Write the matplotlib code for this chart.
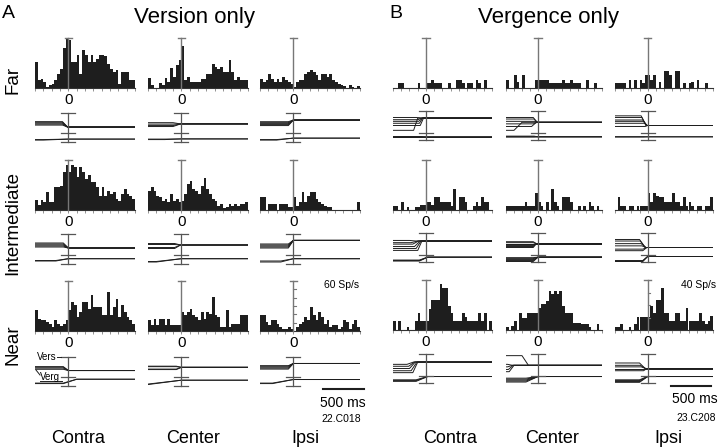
import numpy as np
import matplotlib.pyplot as plt
from matplotlib.lines import Line2D

plt.rcParams['font.family'] = ['Liberation Sans', 'DejaVu Sans']

W, H = 720, 448
T0, T1 = -400, 800   # ms, time window of every panel

# firing rate histograms (Sp/s), 36 bins from -400 to 800 ms
a_far_contra = [31, 9, 11, 7, 1, 3, 5, 10, 17, 23, 48, 60, 58, 31, 31, 40, 17, 45, 40, 31,
                40, 31, 35, 40, 40, 38, 29, 23, 19, 22, 5, 19, 19, 19, 9, 9]
a_far_center = [12, 3, 0, 0, 6, 3, 12, 7, 24, 13, 27, 33, 50, 9, 13, 7, 7, 7, 7, 11,
                11, 17, 17, 29, 25, 23, 25, 19, 19, 33, 19, 9, 13, 9, 9, 9]
a_far_ipsi = [11, 7, 9, 17, 11, 7, 11, 7, 13, 9, 7, 5, 1, 7, 9, 9, 17, 19, 21, 19,
              15, 9, 17, 17, 13, 17, 9, 7, 5, 3, 2, 0, 3, 1, 0, 2]
a_int_contra = [12, 6, 12, 9, 21, 10, 10, 27, 27, 29, 45, 54, 45, 54, 51, 39, 51, 45, 37, 42,
                33, 33, 27, 17, 27, 17, 23, 19, 21, 13, 11, 19, 25, 19, 17, 13]
a_int_center = [23, 27, 23, 17, 15, 11, 13, 9, 19, 11, 13, 9, 11, 19, 31, 35, 25, 23, 19, 29,
                38, 25, 19, 13, 11, 5, 7, 2, 3, 7, 5, 7, 5, 7, 7, 9]
a_int_ipsi = [15, 15, 0, 7, 7, 7, 0, 7, 7, 7, 3, 3, 15, 5, 9, 21, 9, 17, 21, 21,
              13, 9, 7, 5, 3, 3, 0, 0, 0, 0, 0, 0, 0, 0, 0, 9]
a_near_contra = [25, 15, 13, 13, 11, 9, 5, 13, 9, 6, 9, 13, 25, 35, 31, 17, 23, 35, 35, 27,
                 43, 29, 29, 29, 19, 19, 47, 19, 29, 39, 17, 31, 23, 17, 13, 9]
a_near_center = [13, 7, 15, 7, 15, 15, 7, 15, 7, 7, 7, 7, 23, 19, 23, 27, 19, 17, 13, 23,
                 15, 23, 20, 41, 19, 17, 5, 5, 25, 5, 9, 9, 9, 19, 19, 19]
a_near_ipsi = [19, 19, 11, 7, 13, 13, 9, 5, 3, 2, 5, 3, 0, 5, 9, 11, 17, 13, 29, 19,
               13, 23, 17, 9, 13, 5, 7, 7, 3, 5, 13, 11, 3, 9, 13, 5]

b_far_contra = [0, 0, 4, 4, 0, 0, 0, 0, 0, 4, 0, 0, 4, 4, 6.5, 4, 4, 4, 0, 0,
                4, 0, 0, 6.5, 6.5, 4, 0, 4, 4, 0, 6.5, 4, 0, 6.5, 0, 0]
b_far_center = [6.5, 0, 0, 10, 4.5, 0, 10, 0, 0, 0, 0, 6.5, 6.5, 6.5, 6.5, 6.5, 4, 4, 4, 4,
                4, 6.5, 4, 4, 6.5, 4, 4, 4, 0, 0, 6.5, 0, 0, 4, 0, 0]
b_far_ipsi = [4, 4, 4, 4, 0, 6.5, 0, 6.5, 0, 6.5, 4, 10, 10, 6, 10, 0, 4.5, 0, 13.5, 13.5,
              10, 0, 13.5, 13.5, 0, 4, 0, 4, 4.5, 0, 6.5, 0, 0, 4, 0, 0]
b_int_contra = [3.3, 3.3, 0, 6, 0, 2.7, 0, 0, 2.7, 2.7, 3.8, 3.8, 6, 6, 3.8, 10, 10, 6, 6, 6,
                6, 3.3, 17, 0, 10, 10, 6, 0, 0, 3.3, 6, 3.3, 10, 6, 6, 0]
b_int_center = [3.3, 3.3, 3.3, 3.3, 3.3, 3.3, 3.3, 6, 3.3, 3.3, 3.3, 13.6, 6, 3.3, 0, 6, 0, 17, 6, 3.3,
                0, 10, 10, 10, 6, 0, 0, 3.3, 0, 3.3, 0, 6.5, 3.3, 0, 3.3, 0]
b_int_ipsi = [0, 10, 3.3, 3.3, 0, 3.3, 3.3, 0, 3.3, 3.3, 3.3, 3.3, 13.6, 6, 13.6, 11.4, 10, 10, 6, 6,
              6, 13.6, 6, 6, 3.3, 10, 3.3, 6, 3.3, 0, 3.3, 3.3, 0, 3.3, 3.3, 10]
b_near_contra = [7.5, 0, 7.5, 0, 0, 2.7, 0, 0, 7.5, 14, 7.5, 7.5, 7.5, 17, 24, 24, 24, 37, 34, 34,
                 19.5, 14, 7.5, 7.5, 7.5, 14, 10.7, 7.5, 7.5, 7.5, 7.5, 14, 7.5, 14, 0, 7.5]
b_near_center = [2.1, 0, 3.5, 7.5, 0, 14, 10, 10, 14, 14, 14, 14, 18, 21, 21, 23, 31, 29, 31, 29,
                 31, 19.5, 14, 14, 14, 6, 6, 6, 4.8, 4.8, 4.8, 2.1, 0, 0, 4.8, 0]
b_near_ipsi = [2.1, 2.1, 4.8, 0, 0, 2.1, 0, 4.8, 10.7, 10.7, 10.7, 10.7, 10.7, 19.5, 14, 24, 24, 34, 14, 14,
               7.5, 7.5, 14, 14, 7.5, 7.5, 18, 7.5, 7.5, 7.5, 7.5, 14, 7.5, 4.8, 7.5, 11.5]

# eye position traces: (levels before, level after, transition start ms, transition end ms)
# vertical units are arbitrary (0 = bottom of the position scale bar, 30 = top)
a_far_vers = [([17.5, 18.5, 19.5, 20.5, 21.0], 15.5, -70, -10),
              ([16.0, 17.0, 18.5, 20.0], 18.7, -100, -10),
              ([17.0, 18.0, 19.0, 20.0, 21.0], 22.7, -60, 0)]
a_far_verg = [([2.0, 2.5], 3.0, -300, 0),
              ([2.5, 3.0], 3.2, -200, 0),
              ([2.0, 2.5], 4.0, -200, 0)]
a_int_vers = [([17.0, 18.0, 19.0, 20.0, 21.0], 16.0, -60, 0),
              ([15.5, 16.5, 19.5, 20.5], 19.0, -80, -10),
              ([16.0, 17.0, 18.0, 19.0, 20.0], 23.6, -60, 0)]
a_int_verg = [([3.0, 3.5], 5.3, -150, 0),
              ([2.0, 2.5], 5.3, -300, 0),
              ([2.0, 3.0], 5.3, -150, 0)]
a_near_vers = [([17.3, 18.5, 19.5, 20.0], 16.0, -60, 0),
               ([17.0, 17.5, 20.0, 20.5], 19.3, -60, 0),
               ([17.5, 18.5, 19.5, 20.5, 21.0], 23.3, -60, 0)]
a_near_verg = [([2.5, 3.0], 7.0, -60, 100),
               ([1.5, 2.0], 6.0, -400, 0),
               ([2.5, 3.0], 6.7, -250, 0)]

b_far_vers = [([23.3, 21.0, 19.3, 17.3, 15.0, 10.0], 22.7,
               [-120, -100, -90, -80, -70, -150], [-60, -50, -40, -40, -30, -100]),
              ([23.3, 21.7, 19.3, 16.7, 14.0, 10.0], 18.3,
               [-60, -50, -40, -60, -80, -300], [-10, -10, 0, -10, -20, -200]),
              ([25.0, 23.3, 20.7, 19.3, 17.3, 14.0], 15.0,
               [-80, -70, -60, -50, -40, -30], [-20, -20, -10, -10, 0, 0])]
b_far_verg = [([3.0, 3.3, 3.6], 3.3, -50, 0),
              ([3.0, 3.5, 4.0], 3.3, -50, 0),
              ([3.0, 3.5], 3.3, -50, 0)]
b_int_vers = [([22.3, 20.0, 18.5, 16.0, 14.0, 12.0], 21.7,
               [-200, -180, -160, -140, -120, -100], [-120, -100, -90, -70, -60, -50]),
              ([15.0, 16.0, 17.0, 18.0, 19.0, 20.0, 21.0], 19.0, -60, -20),
              ([23.3, 21.7, 19.0, 16.7, 13.3, 11.7], 15.0,
               [-100, -90, -80, -70, -60, -60], [-30, -30, -20, -20, -10, -10])]
b_int_verg = [([1.0, 1.5, 2.0], 5.0, -80, 20),
              ([0.5, 1.5, 2.5, 3.5, 4.5], 5.0, -60, 0),
              ([0.5, 1.0, 1.5], 5.7, -60, 0)]
b_near_vers = [([19.3, 17.3, 15.0, 12.7, 10.7], 21.7,
                [-230, -210, -200, -180, -160], [-150, -140, -130, -110, -100]),
               ([28.3, 19.3, 16.7, 14.0, 11.7], 18.3,
                [-200, -380, -380, -370, -360], [-120, -320, -320, -310, -300]),
               ([20.7, 18.3, 16.7, 15.0, 12.7], 15.0,
                [-100, -90, -80, -60, -50], [-30, -30, -20, -20, -10])]
b_near_verg = [([1.7, 2.5, 3.3], 6.7, -120, 20),
               ([1.0, 2.0, 3.0, 4.0, 5.0], 6.7, -150, 0),
               ([0.7, 1.5, 2.5, 3.3], 6.7, -100, 0)]

col_labels = ['Contra', 'Center', 'Ipsi']
row_labels = ['Far', 'Intermediate', 'Near']

# layout in pixels: (left, width) of columns, hist baselines, trace (top, bottom)
cols_a = [(35, 100), (148, 100), (260, 100)]
cols_b = [(393, 99), (506, 96), (615, 98)]
base_a = [88, 210, 331]
base_b = [88, 210, 330]
trace_a = [(113, 142), (234, 264), (357, 386)]
trace_b = [(111, 140), (233, 262), (354, 383)]
HIST_H = 50
INK = '#1e1e1e'
GREY = '#777777'

fig = plt.figure(figsize=(W / 100, H / 100), dpi=100)


def px_axes(x, top, w, h):
    return fig.add_axes([x / W, 1 - (top + h) / H, w / W, h / H])


def fig_text(x, y, s, **kw):
    fig.text(x / W, 1 - y / H, s, **kw)


def fig_line(xs, ys, **kw):
    fig.add_artist(Line2D([v / W for v in xs], [1 - v / H for v in ys],
                          transform=fig.transFigure, **kw))


def draw_hist(ax, vals, ymax, scale_ticks=False):
    edges = np.linspace(T0, T1, len(vals) + 1)
    ax.bar(edges[:-1], vals, width=np.diff(edges), align='edge', color=INK, linewidth=0)
    ax.plot([0, 0], [0, ymax], color=GREY, lw=1.0, clip_on=False, zorder=3)
    ax.plot([-45, 45], [ymax, ymax], color=GREY, lw=1.0, clip_on=False, zorder=3)
    if scale_ticks:
        for v in range(10, ymax, 10):
            ax.plot([0, 30], [v, v], color=GREY, lw=0.8, clip_on=False, zorder=3)
    ax.set_xlim(T0, T1)
    ax.set_ylim(0, ymax)
    for s in ['top', 'right', 'left']:
        ax.spines[s].set_visible(False)
    ax.spines['bottom'].set_color('#333333')
    ax.spines['bottom'].set_linewidth(0.8)
    ax.set_xticks(np.arange(T0, T1 + 1, 100))
    ax.set_yticks([])
    ax.tick_params(axis='x', length=2, width=0.5, colors='#666666', labelbottom=False)
    ax.patch.set_alpha(0)


def draw_traces(ax, vers, verg, mid):
    for pre, post, on, off in (vers, verg):
        on = np.broadcast_to(on, len(pre))
        off = np.broadcast_to(off, len(pre))
        for p, a, b in zip(pre, on, off):
            ax.plot([T0, a, b, T1], [p, p, post, post], color=INK, lw=0.7)
    ax.plot([0, 0], [0, 30], color='#555555', lw=0.9, clip_on=False)
    for lev in (0, mid, 30):
        ax.plot([-85, 85], [lev, lev], color='#555555', lw=0.9, clip_on=False)
    ax.set_xlim(T0, T1)
    ax.set_ylim(0, 30)
    ax.axis('off')


panels = [
    ('A', cols_a, base_a, trace_a, 60, 9.5,
     [a_far_contra, a_far_center, a_far_ipsi],
     [a_int_contra, a_int_center, a_int_ipsi],
     [a_near_contra, a_near_center, a_near_ipsi],
     [a_far_vers, a_int_vers, a_near_vers], [a_far_verg, a_int_verg, a_near_verg]),
    ('B', cols_b, base_b, trace_b, 40, 7.3,
     [b_far_contra, b_far_center, b_far_ipsi],
     [b_int_contra, b_int_center, b_int_ipsi],
     [b_near_contra, b_near_center, b_near_ipsi],
     [b_far_vers, b_int_vers, b_near_vers], [b_far_verg, b_int_verg, b_near_verg]),
]

trace_axes = {}
for name, cols, bases, traces, ymax, mid, far, inter, near, vers_rows, verg_rows in panels:
    rows = [far, inter, near]
    for r in range(3):
        for c in range(3):
            x0, w = cols[c]
            ax = px_axes(x0, bases[r] - HIST_H, w, HIST_H)
            draw_hist(ax, rows[r][c], ymax, scale_ticks=(r == 2 and c == 2))
            zx = x0 + w * (0 - T0) / (T1 - T0)
            fig_text(zx, bases[r] + 15.5, '0', ha='center', va='baseline', fontsize=11)
            top, bot = traces[r]
            tax = px_axes(x0, top, w, bot - top)
            draw_traces(tax, vers_rows[r][c], verg_rows[r][c], mid)
            trace_axes[(name, r, c)] = tax

# panel letters and titles
fig_text(2, 18, 'A', ha='left', va='baseline', fontsize=14)
fig_text(389, 18, 'B', ha='left', va='baseline', fontsize=14)
fig_text(195, 23, 'Version only', ha='center', va='baseline', fontsize=16)
fig_text(548, 23, 'Vergence only', ha='center', va='baseline', fontsize=16)

# row labels
for lab, yc in zip(row_labels, [80, 223, 345]):
    fig_text(13, yc, lab, rotation=90, ha='center', va='center', fontsize=13.5)

# column labels
for lab, xc in zip(col_labels, [78, 193, 305]):
    fig_text(xc, 443, lab, ha='center', va='baseline', fontsize=13)
for lab, xc in zip(col_labels, [450, 552, 668]):
    fig_text(xc, 443, lab, ha='center', va='baseline', fontsize=13)

# rate scale labels
fig_text(359, 288, '60 Sp/s', ha='right', va='baseline', fontsize=7.5)
fig_text(716, 288, '40 Sp/s', ha='right', va='baseline', fontsize=7.5)

# time scale bars
trace_axes[('A', 2, 2)].plot([350, 850], [-3, -3], color=INK, lw=1.5, clip_on=False)
trace_axes[('B', 2, 2)].plot([280, 780], [-3, -3], color=INK, lw=1.5, clip_on=False)
fig_text(320, 407, '500 ms', ha='left', va='baseline', fontsize=10)
fig_text(321, 422, '22.C018', ha='left', va='baseline', fontsize=7.5)
fig_text(695, 403, '500 ms', ha='center', va='baseline', fontsize=10)
fig_text(716, 421, '23.C208', ha='right', va='baseline', fontsize=7.5)

# Vers / Verg labels on the near contra traces of panel A
fig_text(37, 360, 'Vers', ha='left', va='baseline', fontsize=7)
fig_text(40, 380, 'Verg', ha='left', va='baseline', fontsize=7)
fig_line([57, 61], [357, 357], color=INK, lw=0.7)
fig_line([36, 40], [370, 375], color=INK, lw=0.7)
fig_line([40, 62], [381, 381], color=INK, lw=0.7)

fig.savefig('out.png', dpi=100)
